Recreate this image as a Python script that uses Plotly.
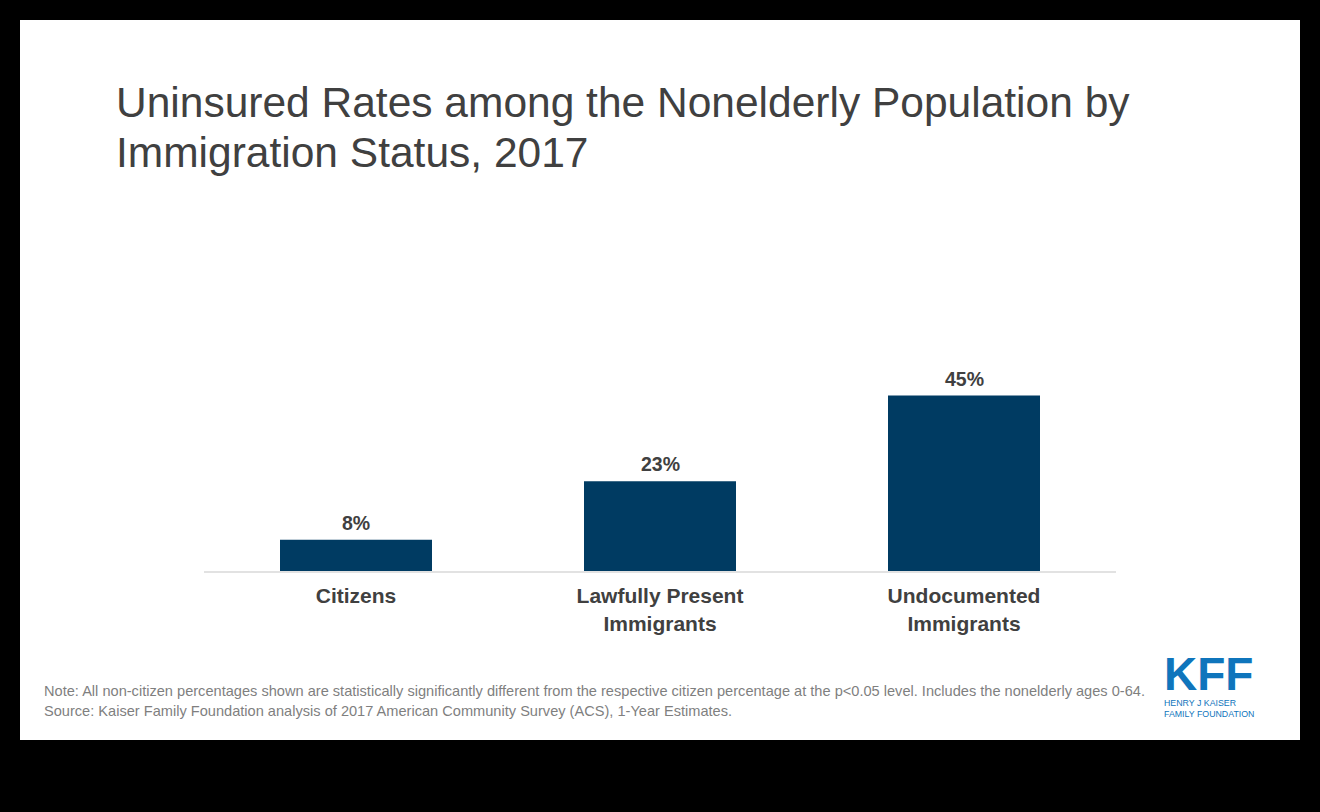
import plotly.graph_objects as go

# ---- data ----
categories = ["Citizens", "Lawfully Present Immigrants", "Undocumented Immigrants"]
tick_labels = ["Citizens", "Lawfully Present<br>Immigrants", "Undocumented<br>Immigrants"]
uninsured_pct = [8, 23, 45]
value_labels = ["8%", "23%", "45%"]

title_line1 = "Uninsured Rates among the Nonelderly Population by"
title_line2 = "Immigration Status, 2017"
note_text = ("Note: All non-citizen percentages shown are statistically significantly different from the "
             "respective citizen percentage at the p<0.05 level. Includes the nonelderly ages 0-64.")
source_text = "Source: Kaiser Family Foundation analysis of 2017 American Community Survey (ACS), 1-Year Estimates."

# ---- layout geometry (pixels) ----
W, H = 1320, 812
L, R, T, B = 204, 1116, 220, 571   # plot area edges


def px(x):
    return (x - L) / (R - L)


def py(y):
    return (B - y) / (B - T)


FONT = "Liberation Sans, Arial, Helvetica, sans-serif"
TEXT = "#404040"
BAR = "#003B62"

fig = go.Figure()
fig.add_trace(go.Bar(
    x=categories, y=uninsured_pct, width=0.5,
    marker=dict(color=BAR, line=dict(width=0)),
    hoverinfo="skip",
))

annotations = []
for c, v, t in zip(categories, uninsured_pct, value_labels):
    annotations.append(dict(
        x=c, y=v, xref="x", yref="y", text=t, showarrow=False,
        yanchor="bottom", yshift=4,
        font=dict(family=FONT, size=19.5, color=TEXT, weight="bold"),
    ))

annotations += [
    dict(x=px(114), y=py(77), xref="paper", yref="paper", xanchor="left", yanchor="top",
         text=title_line1, showarrow=False, align="left",
         font=dict(family=FONT, size=42.5, color=TEXT)),
    dict(x=px(114), y=py(127), xref="paper", yref="paper", xanchor="left", yanchor="top",
         text=title_line2, showarrow=False, align="left",
         font=dict(family=FONT, size=42.5, color=TEXT)),
    dict(x=px(42), y=py(691), xref="paper", yref="paper", xanchor="left", yanchor="middle",
         text=note_text, showarrow=False, align="left",
         font=dict(family=FONT, size=14.6, color="#7F7F7F")),
    dict(x=px(42), y=py(711), xref="paper", yref="paper", xanchor="left", yanchor="middle",
         text=source_text, showarrow=False, align="left",
         font=dict(family=FONT, size=14.6, color="#7F7F7F")),
    dict(x=px(1208), y=py(674), xref="paper", yref="paper", xanchor="center", yanchor="middle",
         text="KFF", showarrow=False,
         font=dict(family=FONT, size=46, color="#0F75BC", weight="bold")),
    dict(x=px(1162), y=py(708), xref="paper", yref="paper", xanchor="left", yanchor="middle",
         text="HENRY J KAISER<br>FAMILY FOUNDATION", showarrow=False, align="left",
         font=dict(family=FONT, size=8.8, color="#0F75BC")),
]

fig.update_layout(
    width=W, height=H,
    margin=dict(l=L, r=W - R, t=T, b=H - B, pad=0),
    paper_bgcolor="#000000",
    plot_bgcolor="#FFFFFF",
    showlegend=False,
    bargap=0.5,
    annotations=annotations,
    shapes=[dict(type="rect", xref="paper", yref="paper", layer="below",
                 x0=px(20), x1=px(1300), y0=py(740), y1=py(20),
                 fillcolor="#FFFFFF", line=dict(width=0))],
    xaxis=dict(
        tickmode="array", tickvals=categories, ticktext=tick_labels,
        showline=True, linecolor="#E2E2E2", linewidth=2,
        showgrid=False, zeroline=False,
        ticks="outside", ticklen=5, tickcolor="rgba(0,0,0,0)",
        tickfont=dict(family=FONT, size=21, color=TEXT, weight="bold"),
        fixedrange=True,
    ),
    yaxis=dict(range=[0, 90], visible=False, fixedrange=True),
)

fig.write_html(
    "out.html",
    config={"displayModeBar": False},
    post_script="document.body.style.margin='0px';document.body.style.background='#000';",
)
